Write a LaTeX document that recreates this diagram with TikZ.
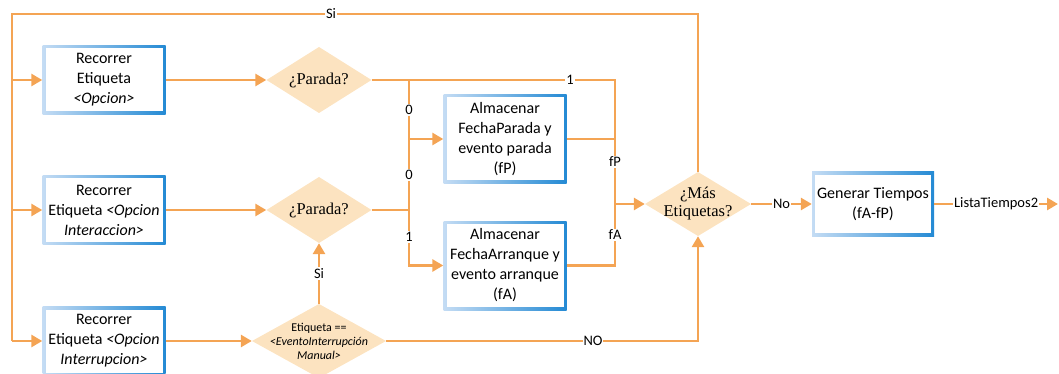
\documentclass[tikz,border=0pt]{standalone}
\usepackage{fontspec}
\setmainfont{Carlito}
\newfontfamily\serifdia{Liberation Serif}
\usetikzlibrary{arrows.meta}
\definecolor{lc}{RGB}{244,164,84}
\definecolor{dfill}{RGB}{252,227,192}
\definecolor{bl}{RGB}{196,220,244}
\definecolor{bd}{RGB}{36,138,212}
\begin{document}
\begin{tikzpicture}[x=1pt,y=-1pt,
 ln/.style={draw=lc,line width=2.9pt},
 arr/.style={ln,-{Triangle[length=11pt,width=12pt]}},
 boxn/.style={minimum width=123pt,minimum height=69pt,inner sep=0pt,align=center,
   left color=bl,right color=bd,
   path picture={\fill[white] ([shift={(3pt,-3pt)}]path picture bounding box.north west) rectangle ([shift={(-3pt,3pt)}]path picture bounding box.south east);},
   font=\fontsize{16}{20}\selectfont},
 dia/.style={inner sep=0pt,align=center,
   path picture={\fill[dfill] (path picture bounding box.west) -- (path picture bounding box.north) -- (path picture bounding box.east) -- (path picture bounding box.south) -- cycle;}},
 lbl/.style={fill=white,inner sep=1pt,font=\fontsize{14.5}{16}\selectfont}]
\useasboundingbox (0,0) rectangle (1059,374);
% boxes
\node[boxn] (b1) at (104,80) {Recorrer\\Etiqueta\\\textit{<Opcion>}};
\node[boxn] (b2) at (104,210) {Recorrer\\Etiqueta \textit{<Opcion}\\\textit{Interaccion>}};
\node[boxn] (b3) at (104,341) {Recorrer\\Etiqueta \textit{<Opcion}\\\textit{Interrupcion>}};
\node[boxn,minimum height=89pt] (p) at (505,139) {Almacenar\\FechaParada y\\evento parada\\(fP)};
\node[boxn,minimum height=89pt] (a) at (505,265.5) {Almacenar\\FechaArranque y\\evento arranque\\(fA)};
\node[boxn,minimum width=122pt,minimum height=64pt] (g) at (873,204) {Generar Tiempos\\(fA-fP)};
% diamonds
\node[dia,minimum width=105pt,minimum height=66pt,font=\serifdia\fontsize{16.5}{18}\selectfont] (d1) at (319,80) {¿Parada?};
\node[dia,minimum width=105pt,minimum height=66pt,font=\serifdia\fontsize{16.5}{18}\selectfont] (d2) at (319,210) {¿Parada?};
\node[dia,minimum width=134pt,minimum height=74pt,font=\fontsize{12}{14}\selectfont] (d3) at (319,341) {Etiqueta ==\\\textit{<EventoInterrupción}\\\textit{Manual>}};
\node[dia,minimum width=106pt,minimum height=64pt,font=\serifdia\fontsize{16.5}{18}\selectfont] (d4) at (698,204) {¿Más\\Etiquetas?};
% frame
\coordinate (tl) at (12,14);
\coordinate (tr) at (698,14);
\coordinate (lb) at (12,341);
\draw[ln] (d4.north) -- (tr) -- (tl) -- (lb);
\draw[arr] (lb) -- (b3.west);
\draw[arr] (tl|-b1.west) -- (b1.west);
\draw[arr] (tl|-b2.west) -- (b2.west);
\node[lbl] at (331,14) {Si};
% main flow
\draw[arr] (b1.east) -- (d1.west);
\draw[arr] (b2.east) -- (d2.west);
\draw[arr] (b3.east) -- (d3.west);
\draw[arr] (d3.north) -- node[lbl]{Si} (d2.south);
\coordinate (r1) at (615,80);
\coordinate (jn) at (615,204);
\coordinate (s1) at (409,80);
\coordinate (s2) at (409,210);
\draw[ln] (d1.east) -- (r1) -- (r1|-a.east) -- (a.east);
\draw[ln] (p.east) -- (r1|-p.east);
\draw[arr] (s1) -- (s1|-p.west) -- (p.west);
\draw[ln] (d2.east) -- (s2);
\draw[ln] (s2) -- (s1|-p.west);
\draw[arr] (s2) -- (s2|-a.west) -- (a.west);
\draw[arr] (jn) -- (d4.west);
\node[lbl] at (570,80) {1};
\node[lbl] at (615,162) {fP};
\node[lbl] at (615,235) {fA};
\node[lbl] at (409,110) {0};
\node[lbl] at (409,175) {0};
\node[lbl] at (409,237) {1};
\coordinate (nb) at (698,341);
\draw[arr] (d3.east) -- (nb) -- (d4.south);
\node[lbl] at (593,341) {NO};
\draw[arr] (d4.east) -- node[lbl]{No} (g.west);
\coordinate (out) at (1058,204);
\draw[arr] (g.east) -- node[lbl]{ListaTiempos2} (out);
\end{tikzpicture}
\end{document}
